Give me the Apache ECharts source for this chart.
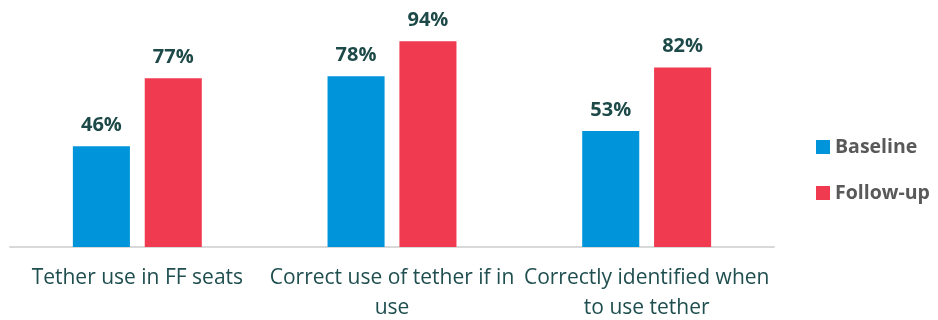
<!DOCTYPE html>
<html>
<head>
<meta charset="utf-8">
<script src="https://cdn.jsdelivr.net/npm/echarts@6/dist/echarts.min.js"></script>
<style>
    html, body { margin: 0; padding: 0; background: #fff; }
    #main { width: 938px; height: 320px; }
</style>
</head>
<body>
<div id="main"></div>
<script>
const categories = [
    'Tether use in FF seats',
    'Correct use of tether if in\nuse',
    'Correctly identified when\nto use tether'
];
const baseline = [46, 78, 53];
const followUp = [77, 94, 82];

const chart = echarts.init(document.getElementById('main'));

const labelStyle = {
    show: true,
    position: 'top',
    distance: 11,
    formatter: '{c}%',
    color: '#1d4a48',
    fontWeight: 'bold',
    fontSize: 20,
    fontFamily: 'Open Sans'
};

chart.setOption({
    animation: false,
    grid: { left: 10, right: 164, top: 28, bottom: 73, outerBoundsMode: 'none' },
    legend: {
        orient: 'vertical',
        left: 811,
        top: 132,
        itemWidth: 14,
        itemHeight: 14,
        itemGap: 26,
        icon: 'rect',
        textStyle: { color: '#595959', fontWeight: 'bold', fontSize: 19.5, fontFamily: 'Open Sans' },
        data: ['Baseline', 'Follow-up']
    },
    xAxis: {
        type: 'category',
        data: categories,
        axisLine: { lineStyle: { color: '#d9d9d9', width: 2 } },
        axisTick: { show: false },
        axisLabel: {
            color: '#1f4e4f',
            fontSize: 21,
            fontFamily: 'Open Sans',
            lineHeight: 30,
            margin: 16,
            interval: 0
        }
    },
    yAxis: {
        type: 'value',
        min: 0,
        max: 100,
        show: false
    },
    series: [
        {
            name: 'Baseline',
            type: 'bar',
            data: baseline,
            barWidth: '22.4%',
            barGap: '26%',
            itemStyle: { color: '#0095da' },
            label: labelStyle
        },
        {
            name: 'Follow-up',
            type: 'bar',
            data: followUp,
            barWidth: '22.4%',
            itemStyle: { color: '#ef3a50' },
            label: labelStyle
        }
    ]
});
</script>
</body>
</html>
